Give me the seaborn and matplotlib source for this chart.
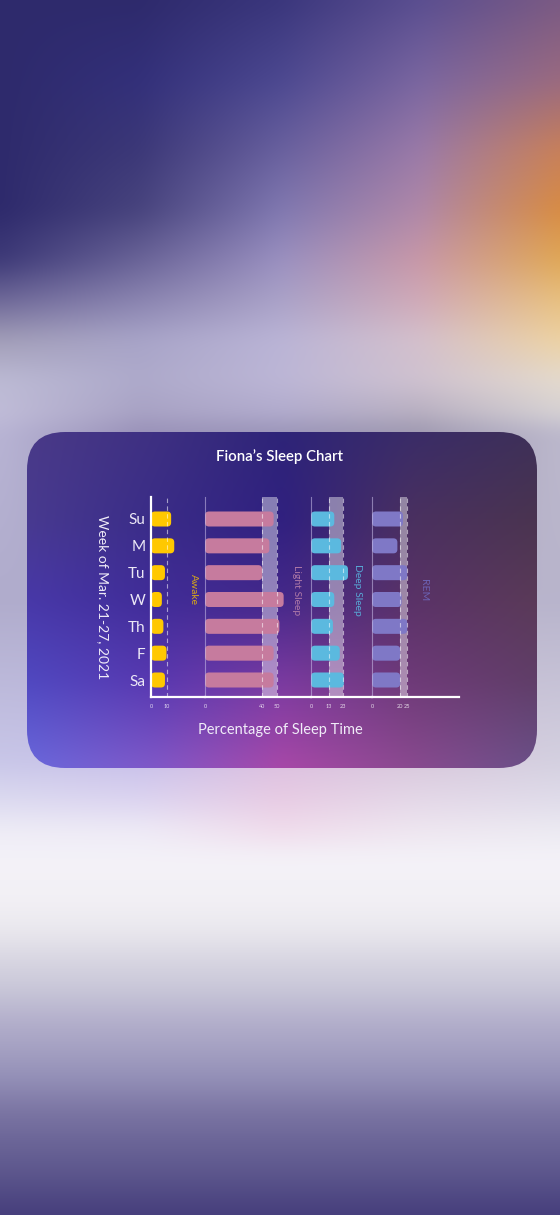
import numpy as np
import pandas as pd
import matplotlib
matplotlib.use("Agg")
import matplotlib.pyplot as plt
from matplotlib.patches import FancyBboxPatch
import seaborn as sns

# ---------------- data ----------------
days = ["Su", "M", "Tu", "W", "Th", "F", "Sa"]
awake = [13, 15, 9, 7, 8, 10, 9]
light_sleep = [48, 45, 40, 55, 52, 48, 48]
deep_sleep = [17, 22, 27, 17, 16, 21, 24]
rem = [22, 18, 25, 21, 25, 20, 20]

stage_names = ["Awake", "Light Sleep", "Deep Sleep", "REM"]
stage_ticks = [[0, 10], [0, 40, 50], [0, 13, 23], [0, 20, 25]]
stage_bands = [None, (40, 50), (13, 23), (20, 25)]
stage_dashes = [[10], [40, 50], [13, 23], [20, 25]]

title = "Fiona\u2019s Sleep Chart"
x_title = "Percentage of Sleep Time"
y_title = "Week of Mar. 21-27, 2021"

df = pd.DataFrame({"Day": days, "Awake": awake, "Light Sleep": light_sleep,
                   "Deep Sleep": deep_sleep, "REM": rem})

# ---------------- style ----------------
sns.set_style("white")
plt.rcParams['font.family'] = ['Lato', 'DejaVu Sans']

W, H = 560, 1215
fig = plt.figure(figsize=(W / 100, H / 100), dpi=100)


def hx(h):
    h = h.lstrip('#')
    return [int(h[i:i + 2], 16) / 255 for i in (0, 2, 4)]


def blur(img, r):
    if r <= 0:
        return img
    out = img.copy()
    for axis in (0, 1):
        pad = [(0, 0)] * 3
        pad[axis] = (r, r)
        p = np.pad(out, pad, mode='edge')
        c = np.cumsum(p, axis=axis)
        c = np.concatenate([np.zeros_like(np.take(c, [0], axis=axis)), c], axis=axis)
        n = out.shape[axis]
        hi = np.take(c, np.arange(2 * r + 1, 2 * r + 1 + n), axis=axis)
        lo = np.take(c, np.arange(0, n), axis=axis)
        out = (hi - lo) / (2 * r + 1)
    return out


def grid_img(xs, ys, grid, w, h, x0=0, y0=0):
    G = np.array([[hx(c) for c in row] for row in grid])
    nx = len(xs)
    px = np.arange(w) + x0 + 0.5
    py = np.arange(h) + y0 + 0.5
    A = np.empty((h, nx, 3))
    for j in range(nx):
        for k in range(3):
            A[:, j, k] = np.interp(py, ys, G[:, j, k])
    fx = np.interp(px, xs, np.arange(nx))
    i0 = np.clip(np.floor(fx).astype(int), 0, nx - 2)
    t = (fx - i0)[None, :, None]
    B = A[:, i0, :] * (1 - t) + A[:, i0 + 1, :] * t
    return np.clip(B, 0, 1)


bg_xs = [0, 140, 280, 420, 560]
bg_ys = [0, 80, 150, 210, 260, 300, 340, 380, 415, 432, 600, 760, 800, 830, 860,
         900, 930, 960, 990, 1020, 1050, 1080, 1110, 1140, 1170, 1215]
bg_grid = [
    ["2e2a6c", "2e2a6c", "3a367c", "5a4e90", "7a5a84"],
    ["2e2a6c", "33307a", "4c4890", "7a66a0", "9a6a80"],
    ["2e2a6c", "3c3878", "68609e", "9a7aa8", "c8805a"],
    ["2e2a6c", "48447e", "8078b0", "b088a8", "d88c44"],
    ["3e3a78", "6a6498", "9a90c0", "c898a8", "e0a858"],
    ["6e6898", "8a84b0", "aaa2c8", "d0aab8", "e8c080"],
    ["a29eb8", "a8a4c8", "bab4d6", "d4c0cc", "edd2a4"],
    ["bcbad4", "aeaacb", "bcb6d6", "cfc2d0", "e4dace"],
    ["c0bcd8", "a8a2c4", "b0aacc", "b6aec0", "d4d0d4"],
    ["b8b4d4", "9890b8", "9a94b8", "9e98b0", "bcb8cc"],
    ["b0accc", "b0accc", "b0accc", "b8b4cc", "b8b4cc"],
    ["c8c6e8", "c8c0ea", "dcc0e0", "d8c8dc", "d4d0e0"],
    ["dcdaf0", "dcd4f0", "e8cce4", "e4d8e8", "e0dcea"],
    ["eeecf6", "eeeaf6", "f0dcec", "eee6f0", "eceaf2"],
    ["f4f2f8"] * 5,
    ["f2f0f5"] * 5,
    ["eae8ee"] * 5,
    ["d8d6e2"] * 5,
    ["c8c6d8"] * 5,
    ["b4b0cc"] * 5,
    ["a4a0c2"] * 5,
    ["928eb6"] * 5,
    ["7c76a4"] * 5,
    ["6c6698"] * 5,
    ["5e588e"] * 5,
    ["463e7c"] * 5,
]
bg = blur(grid_img(bg_xs, bg_ys, bg_grid, W, H), 12)

bg_ax = fig.add_axes([0, 0, 1, 1])
bg_ax.imshow(bg, extent=[0, W, H, 0], aspect='auto', interpolation='bilinear')
bg_ax.set_xlim(0, W)
bg_ax.set_ylim(H, 0)
bg_ax.axis('off')

# card
cx0, cy0, cx1, cy1 = 27, 432, 537, 768
card_xs = [27, 155, 282, 410, 537]
card_ys = [432, 520, 600, 680, 768]
card_grid = [
    ["4a3a88", "3e3082", "2e2478", "3a2c68", "3e3058"],
    ["483a90", "3a2c88", "302080", "4a3060", "4a3450"],
    ["4838a8", "402c98", "45288a", "5a3268", "5a3a58"],
    ["5048c0", "5838b0", "7a3aa0", "6e3a78", "603e68"],
    ["6a68dc", "8058c8", "a848a8", "8a4a90", "6a5088"],
]
card_img = blur(grid_img(card_xs, card_ys, card_grid, cx1 - cx0, cy1 - cy0, cx0, cy0), 10)
card_patch = FancyBboxPatch((cx0, cy0), cx1 - cx0, cy1 - cy0,
                            boxstyle="round,pad=0,rounding_size=38",
                            transform=bg_ax.transData, fc='none', ec='none')
bg_ax.add_patch(card_patch)
im = bg_ax.imshow(card_img, extent=[cx0, cx1, cy1, cy0], aspect='auto',
                  interpolation='bilinear')
im.set_clip_path(card_patch)
bg_ax.set_xlim(0, W)
bg_ax.set_ylim(H, 0)

bg_ax.text(280, 457, title, ha='center', va='center', color='white',
           fontsize=10.8, fontweight='semibold')
bg_ax.text(280, 730, x_title, ha='center', va='center', color='#f0ecf8',
           fontsize=10.5, fontweight='normal')
bg_ax.text(103, 597, y_title, ha='center', va='center', color='#f0ecf8',
           fontsize=10, fontweight='normal', rotation=270)

# ---------------- panels ----------------
ax_top, ax_bot = 497, 697
row_first, row_last = 519, 680
px_per_row = (row_last - row_first) / 6
ylim_bot = 6 + (ax_bot - row_last) / px_per_row
ylim_top = -(row_first - ax_top) / px_per_row

panel_px = [(151, 205), (205, 311), (311, 372), (372, 459)]
px_per_unit = [1.55, 1.43, 1.37, 1.41]
bar_colors = ["#ffc800", "#c67b9e", "#5bb9df", "#7f78c6"]
label_colors = ["#d8a818", "#b07aa8", "#58aad8", "#6c62b4"]
label_x_px = [193, 297, 357, 423]
label_y_px = 590

for i, name in enumerate(stage_names):
    l, r = panel_px[i]
    s = px_per_unit[i]
    ax = fig.add_axes([l / W, 1 - ax_bot / H, (r - l) / W, (ax_bot - ax_top) / H])
    ax.patch.set_alpha(0)
    sns.barplot(data=df, x=name, y="Day", ax=ax, color=bar_colors[i],
                width=0.56, orient='h', saturation=1, errorbar=None)
    xmax = (r - l) / s
    ax.set_xlim(0, xmax)
    ax.set_ylim(ylim_bot, ylim_top)

    # rounded bars
    rr = 4.0
    for p in list(ax.patches):
        x, y, w_, h_ = p.get_x(), p.get_y(), p.get_width(), p.get_height()
        p.remove()
        fb = FancyBboxPatch((x, y), w_, h_,
                            boxstyle=f"round,pad=0,rounding_size={rr / s}",
                            mutation_aspect=s / px_per_row,
                            fc=bar_colors[i], ec='none', zorder=2)
        ax.add_patch(fb)

    if stage_bands[i] is not None:
        ax.axvspan(*stage_bands[i], color='white', alpha=0.42, lw=0, zorder=1)
    for d in stage_dashes[i]:
        ax.axvline(d, color='white', alpha=0.55, lw=0.8, ls=(0, (4, 3)), zorder=3)

    for sp in ax.spines.values():
        sp.set_visible(False)
    ax.spines['bottom'].set_visible(True)
    ax.spines['bottom'].set_color('white')
    ax.spines['bottom'].set_linewidth(1.6)
    ax.spines['left'].set_visible(True)
    if i == 0:
        ax.spines['left'].set_color('white')
        ax.spines['left'].set_linewidth(1.6)
    else:
        ax.spines['left'].set_color((0.8, 0.76, 0.92, 0.55))
        ax.spines['left'].set_linewidth(0.8)

    ax.set_xticks(stage_ticks[i])
    ax.set_xticklabels([str(t) for t in stage_ticks[i]])
    ax.tick_params(axis='x', length=0, labelsize=4, pad=5, colors=(1, 1, 1, 0.8))
    if i == 0:
        ax.set_yticks(range(len(days)))
        ax.set_yticklabels(days)
        ax.tick_params(axis='y', length=0, labelsize=11, pad=4, colors='#ece8f6')
        for t in ax.get_yticklabels():
            t.set_fontweight('normal')
    else:
        ax.set_yticks([])
    ax.set_xlabel("")
    ax.set_ylabel("")

    ax.text((label_x_px[i] - l) / (r - l), (ax_bot - label_y_px) / (ax_bot - ax_top),
            name, transform=ax.transAxes, rotation=270, ha='center', va='center',
            color=label_colors[i], fontsize=7.5, fontweight='normal', clip_on=False)

fig.savefig("out.png", dpi=100)
